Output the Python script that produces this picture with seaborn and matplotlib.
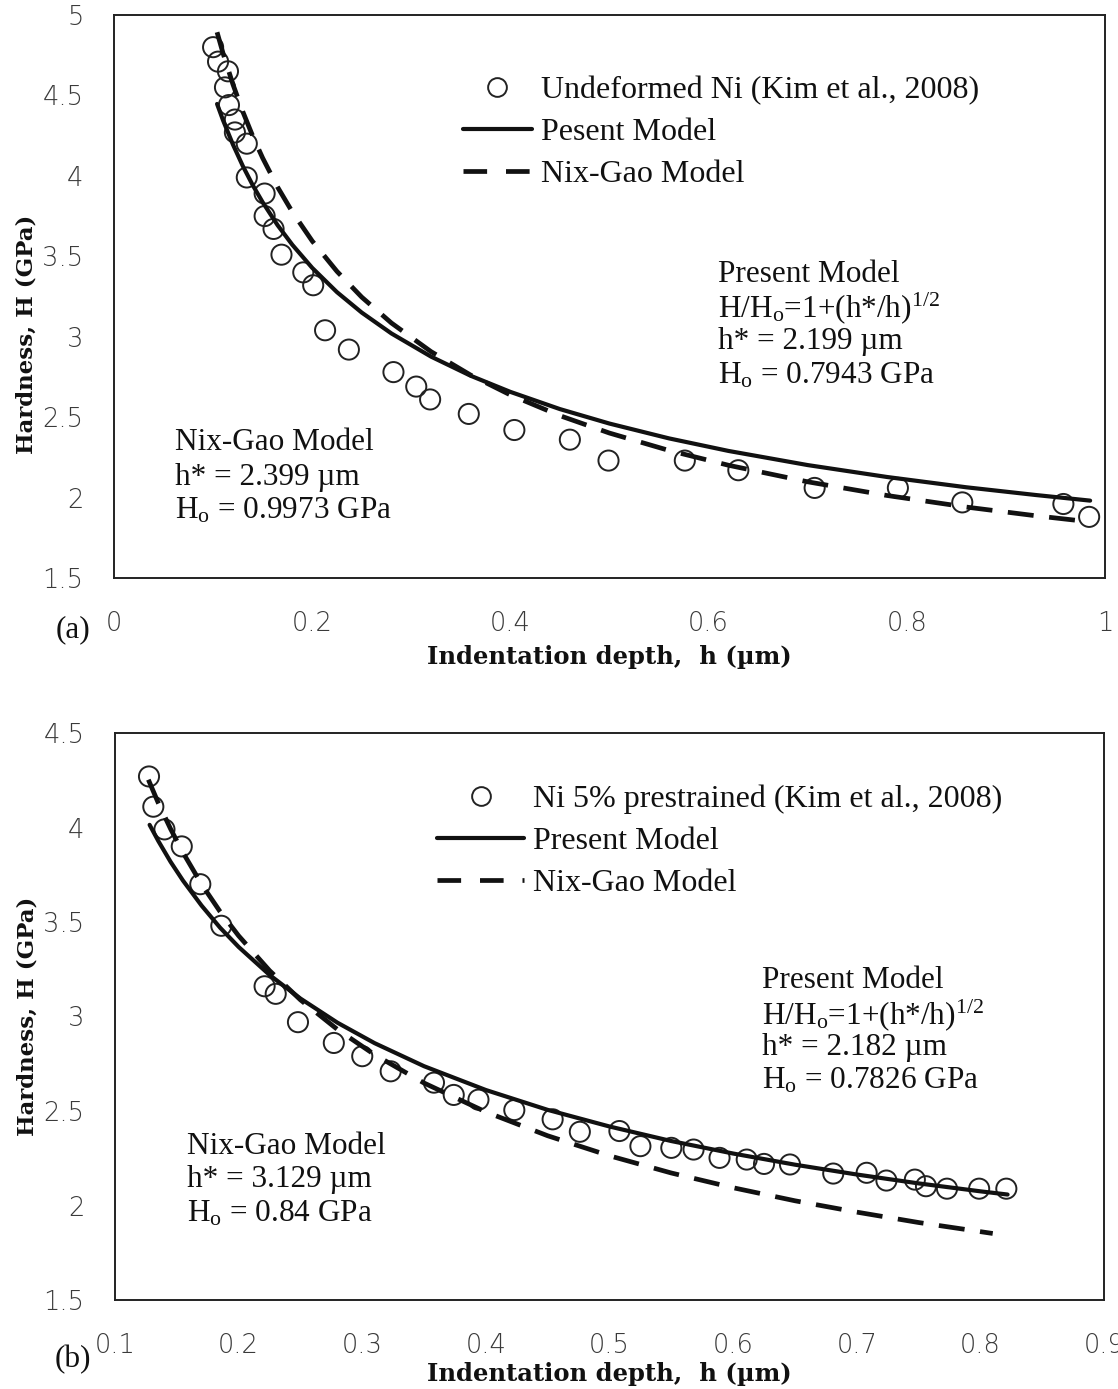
import numpy as np
import pandas as pd
import matplotlib
matplotlib.use("Agg")
import matplotlib.pyplot as plt
from matplotlib.lines import Line2D
import seaborn as sns

# ---------------- data ----------------
# (a) Undeformed Ni
a_exp_h = [0.100, 0.105, 0.115, 0.112, 0.116, 0.122, 0.122, 0.134, 0.134, 0.152, 0.152,
           0.161, 0.169, 0.191, 0.201, 0.213, 0.237, 0.282, 0.305, 0.319, 0.358, 0.404,
           0.460, 0.499, 0.576, 0.630, 0.707, 0.791, 0.856, 0.958, 0.984]
a_exp_H = [4.80, 4.71, 4.65, 4.55, 4.44, 4.35, 4.27, 4.20, 3.99, 3.89, 3.75,
           3.67, 3.51, 3.40, 3.32, 3.04, 2.92, 2.78, 2.69, 2.61, 2.52, 2.42,
           2.36, 2.23, 2.23, 2.17, 2.06, 2.06, 1.97, 1.96, 1.88]
a_curve_h = [0.104, 0.11, 0.12, 0.13, 0.14, 0.15, 0.165, 0.18, 0.2, 0.225, 0.25, 0.28,
             0.32, 0.36, 0.4, 0.45, 0.5, 0.56, 0.62, 0.7, 0.78, 0.86, 0.93, 0.985]
a_present_H = [4.447, 4.346, 4.195, 4.061, 3.942, 3.836, 3.694, 3.571, 3.428, 3.277, 3.150,
               3.020, 2.876, 2.757, 2.657, 2.550, 2.460, 2.368, 2.290, 2.202, 2.128, 2.064,
               2.016, 1.981]
a_nixgao_H = [4.893, 4.763, 4.569, 4.399, 4.247, 4.111, 3.931, 3.775, 3.595, 3.406, 3.246,
              3.085, 2.907, 2.761, 2.638, 2.509, 2.401, 2.293, 2.201, 2.098, 2.013, 1.941,
              1.887, 1.849]

# (b) Ni 5% prestrained
b_exp_h = [0.1275, 0.131, 0.140, 0.154, 0.169, 0.186, 0.221, 0.230, 0.248, 0.277, 0.300,
           0.323, 0.358, 0.374, 0.394, 0.423, 0.454, 0.476, 0.508, 0.525, 0.550, 0.568,
           0.589, 0.611, 0.625, 0.646, 0.681, 0.708, 0.724, 0.747, 0.756, 0.773, 0.799, 0.821]
b_exp_H = [4.27, 4.11, 3.99, 3.90, 3.70, 3.48, 3.16, 3.12, 2.97, 2.86, 2.79,
           2.71, 2.65, 2.585, 2.56, 2.505, 2.456, 2.39, 2.394, 2.314, 2.305, 2.296,
           2.252, 2.243, 2.22, 2.217, 2.169, 2.173, 2.132, 2.137, 2.102, 2.089, 2.089, 2.089]
b_present_h = [0.128, 0.135, 0.145, 0.155, 0.17, 0.185, 0.2, 0.225, 0.25, 0.28, 0.31,
               0.35, 0.4, 0.45, 0.5, 0.55, 0.6, 0.65, 0.7, 0.75, 0.8, 0.822]
b_present_H = [4.014, 3.929, 3.818, 3.719, 3.587, 3.470, 3.368, 3.220, 3.095, 2.967, 2.859,
               2.737, 2.611, 2.506, 2.418, 2.341, 2.275, 2.216, 2.164, 2.117, 2.075, 2.058]
b_nixgao_h = [0.127, 0.135, 0.145, 0.155, 0.17, 0.185, 0.2, 0.225, 0.25, 0.28, 0.31,
              0.35, 0.4, 0.45, 0.5, 0.55, 0.6, 0.65, 0.7, 0.75, 0.81]
b_nixgao_H = [4.253, 4.130, 3.992, 3.867, 3.700, 3.555, 3.427, 3.243, 3.088, 2.931, 2.798,
              2.648, 2.495, 2.369, 2.263, 2.172, 2.094, 2.025, 1.965, 1.910, 1.852]

a_labels = ["Undeformed Ni (Kim et al., 2008)", "Pesent Model", "Nix-Gao Model"]
b_labels = ["Ni 5% prestrained (Kim et al., 2008)", "Present Model", "Nix-Gao Model"]
a_xticks = [0, 0.2, 0.4, 0.6, 0.8, 1]
a_xticklabels = ["0", "0.2", "0.4", "0.6", "0.8", "1"]
a_yticks = [1.5, 2, 2.5, 3, 3.5, 4, 4.5, 5]
b_xticks = [0.1, 0.2, 0.3, 0.4, 0.5, 0.6, 0.7, 0.8, 0.9]
b_yticks = [1.5, 2, 2.5, 3, 3.5, 4, 4.5]

# ---------------- style ----------------
sns.set_theme(style="white")
plt.rcParams['font.family'] = ['Liberation Serif', 'DejaVu Serif']
plt.rcParams['mathtext.fontset'] = 'custom'
plt.rcParams['mathtext.rm'] = 'Liberation Serif'
plt.rcParams['mathtext.it'] = 'Liberation Serif:italic'
plt.rcParams['mathtext.bf'] = 'Liberation Serif:bold'

TXT = 22.5
LEG = 23
INK = '#111111'
DASH = (5.5, 3.3)

fig = plt.figure(figsize=(11.18, 13.89), dpi=100)
ax1 = fig.add_axes([114/1118, 1-578/1389, (1105-114)/1118, (578-15)/1389])
ax2 = fig.add_axes([115/1118, 1-1300/1389, (1104-115)/1118, (1300-733)/1389])


def draw(ax, exp_h, exp_H, pr_h, pr_H, ng_h, ng_H):
    sns.lineplot(x=pr_h, y=pr_H, ax=ax, color=INK, linewidth=3.0, sort=False,
                 estimator=None, zorder=3)
    sns.lineplot(x=ng_h, y=ng_H, ax=ax, color=INK, linewidth=3.4, sort=False,
                 estimator=None, zorder=3)
    ax.lines[-1].set_dashes(DASH)
    sns.scatterplot(x=exp_h, y=exp_H, ax=ax, marker='o', s=210,
                    facecolors='none', edgecolors='#222222', linewidth=1.4, zorder=2)
    ax.collections[-1].set_facecolor('none')


draw(ax1, a_exp_h, a_exp_H, a_curve_h, a_present_H, a_curve_h, a_nixgao_H)
draw(ax2, b_exp_h, b_exp_H, b_present_h, b_present_H, b_nixgao_h, b_nixgao_H)

for ax, lp in ((ax1, 6), (ax2, 3)):
    for sp in ax.spines.values():
        sp.set_visible(True)
        sp.set_color('#222222')
        sp.set_linewidth(1.4)
    ax.tick_params(axis='both', which='major', direction='out', length=8, width=1.3,
                   colors='#222222', labelcolor='#3a3a3a', labelsize=18.5)
    ax.tick_params(axis='x', pad=16)
    ax.tick_params(axis='y', pad=14)
    ax.grid(False)
    ax.set_xlabel("Indentation depth,  h (\u00b5m)", fontsize=17.5, fontweight='bold',
                  color=INK, labelpad=lp, family='DejaVu Serif')
    ax.set_ylabel("Hardness, H (GPa)", fontsize=16.5, fontweight='bold', color=INK,
                  labelpad=4, family='DejaVu Serif')

ax1.yaxis.set_label_coords(-0.077, 0.433)
ax2.yaxis.set_label_coords(-0.077, 0.50)

ax1.set_xlim(0, 1)
ax1.set_ylim(1.5, 5)
ax1.set_xticks(a_xticks)
ax1.set_xticklabels(a_xticklabels)
ax1.set_yticks(a_yticks)
ax1.set_yticklabels([f"{v:g}" for v in a_yticks])

ax2.set_xlim(0.1, 0.9)
ax2.set_ylim(1.5, 4.5)
ax2.set_xticks(b_xticks)
ax2.set_xticklabels([f"{v:g}" for v in b_xticks])
ax2.set_yticks(b_yticks)
ax2.set_yticklabels([f"{v:g}" for v in b_yticks])

for ax in (ax1, ax2):
    for lab in ax.get_xticklabels() + ax.get_yticklabels():
        lab.set_family('DejaVu Sans')
        lab.set_fontweight('light')


def handles():
    return [Line2D([], [], linestyle='none', marker='o', markersize=13.5,
                   markerfacecolor='none', markeredgecolor='#222222', markeredgewidth=1.4),
            Line2D([], [], color=INK, linewidth=3.0),
            Line2D([], [], color=INK, linewidth=3.4, dashes=(5.0, 4.0))]


leg1 = ax1.legend(handles(), a_labels, loc='upper left', bbox_to_anchor=(0.352, 0.892),
                  frameon=False, fontsize=LEG, handlelength=2.15, handletextpad=0.3,
                  labelspacing=0.40, borderpad=0, borderaxespad=0)
leg2 = ax2.legend(handles(), b_labels, loc='upper left', bbox_to_anchor=(0.326, 0.909),
                  frameon=False, fontsize=LEG, handlelength=2.7, handletextpad=0.3,
                  labelspacing=0.40, borderpad=0, borderaxespad=0)
for leg in (leg1, leg2):
    for t in leg.get_texts():
        t.set_color(INK)

sub = r'$\mathregular{_o}$'
hstar = "h*"
formula = "H/H" + sub + "=1+(" + hstar + r"/h)$\mathregular{^{1/2}}$"
ann_a_present = ["Present Model", formula, hstar + " = 2.199 \u00b5m",
                 "H" + sub + " = 0.7943 GPa"]
ann_a_nix = ["Nix-Gao Model", hstar + " = 2.399 \u00b5m", "H" + sub + " = 0.9973 GPa"]
ann_b_present = ["Present Model", formula, hstar + " = 2.182 \u00b5m",
                 "H" + sub + " = 0.7826 GPa"]
ann_b_nix = ["Nix-Gao Model", hstar + " = 3.129 \u00b5m", "H" + sub + " = 0.84 GPa"]


def put_lines(lines, x_px, y_px_list):
    for s, y in zip(lines, y_px_list):
        fig.text(x_px/1118, 1-y/1389, s, fontsize=TXT, color=INK, ha='left', va='center')


put_lines(ann_a_present, 718, [275, 308, 342, 376])
put_lines(ann_a_nix, 175, [443, 477, 511])
put_lines(ann_b_present, 762, [981, 1015, 1048, 1081])
put_lines(ann_b_nix, 187, [1146, 1180, 1214])

fig.text(73/1118, 1-630/1389, "(a)", fontsize=TXT, color=INK, ha='center', va='center')
fig.text(73/1118, 1-1360/1389, "(b)", fontsize=TXT, color=INK, ha='center', va='center')

fig.savefig("out.png", dpi=100)
